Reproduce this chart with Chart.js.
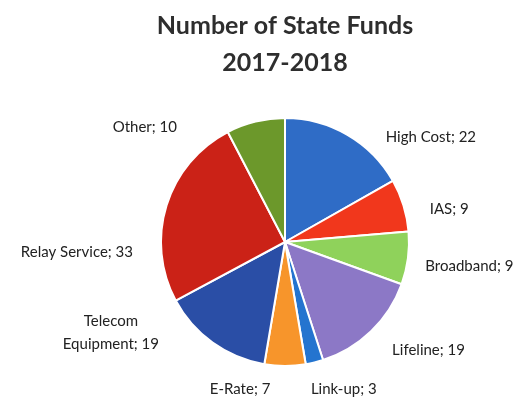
<!DOCTYPE html>
<html>
<head>
<meta charset="utf-8">
<script src="https://cdn.jsdelivr.net/npm/chart.js@4"></script>
<style>
  html, body { margin: 0; padding: 0; background: #fff; }
  #wrap { width: 522px; height: 400px; }
</style>
</head>
<body>
<div id="wrap"><canvas id="chartFunds"></canvas></div>
<script>
const categories = ['High Cost', 'IAS', 'Broadband', 'Lifeline', 'Link-up', 'E-Rate', 'Telecom Equipment', 'Relay Service', 'Other'];
const funds = [22, 9, 9, 19, 3, 7, 19, 33, 10];
const titleLines = ['Number of State Funds', '2017-2018'];

const sliceColors = ['#2f6cc6', '#f1371c', '#8fd25b', '#8c78c6', '#2474cf', '#f7952b', '#2a4ea6', '#cb2217', '#6c982b'];

// label placement: angle shift from slice middle (deg), distance as a factor of radius
const labelLayout = [
    [24, 1.45], [6, 1.35], [0, 1.50], [-9, 1.45], [-8, 1.28],
    [17, 1.24], [27, 1.58], [-20, 1.68], [-37, 1.46]
];

const outsideLabels = {
    id: 'outsideLabels',
    afterDatasetsDraw(chart) {
        const ctx = chart.ctx;
        const meta = chart.getDatasetMeta(0);
        ctx.save();
        ctx.font = '15px Lato';
        ctx.fillStyle = '#222';
        ctx.textAlign = 'center';
        ctx.textBaseline = 'middle';
        meta.data.forEach(function(arc, i) {
            const mid = (arc.startAngle + arc.endAngle) / 2 + labelLayout[i][0] * Math.PI / 180;
            const d = arc.outerRadius * labelLayout[i][1];
            const x = arc.x + Math.cos(mid) * d;
            const y = arc.y + Math.sin(mid) * d;
            if (categories[i] === 'Telecom Equipment') {
                ctx.fillText('Telecom', x, y - 11);
                ctx.fillText('Equipment; ' + funds[i], x, y + 12);
            } else {
                ctx.fillText(categories[i] + '; ' + funds[i], x, y);
            }
        });
        ctx.restore();
    }
};

document.addEventListener('DOMContentLoaded', function() {
    const ctx = document.getElementById('chartFunds').getContext('2d');

    new Chart(ctx, {
        type: 'pie',
        data: {
            labels: categories,
            datasets: [{
                data: funds,
                backgroundColor: sliceColors,
                borderColor: '#ffffff',
                borderWidth: 2
            }]
        },
        options: {
            responsive: true,
            maintainAspectRatio: false,
            animation: false,
            layout: {
                padding: { left: 48, right: 0, top: 0, bottom: 33 }
            },
            plugins: {
                legend: { display: false },
                tooltip: { enabled: false },
                title: {
                    display: true,
                    text: titleLines,
                    color: '#2e2e2e',
                    font: { family: 'Lato', size: 25, weight: 'bold', lineHeight: 1.5 },
                    padding: { top: 7, bottom: 35 }
                }
            }
        },
        plugins: [outsideLabels]
    });
});
</script>
</body>
</html>
